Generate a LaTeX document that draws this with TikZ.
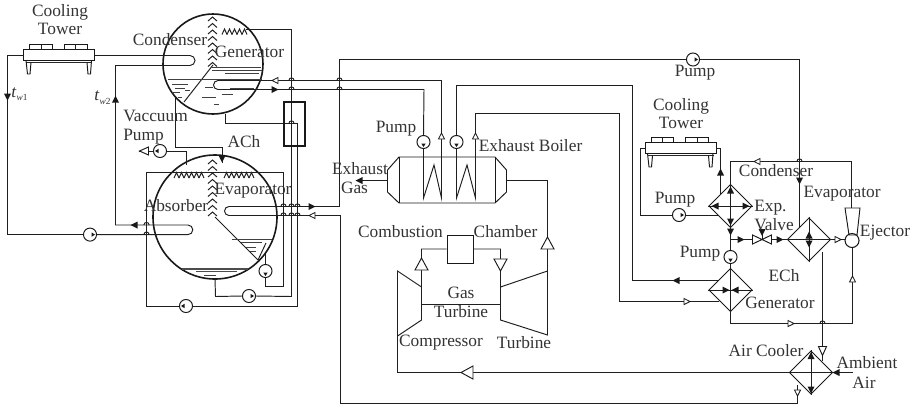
\documentclass[tikz,border=0pt]{standalone}
\usepackage{fontspec}
\setmainfont{Liberation Serif}
\usetikzlibrary{arrows.meta,positioning,shapes.geometric}

\begin{document}
\begin{tikzpicture}[
    x=0.75pt,
    y=-0.75pt,
    pipe/.style={
        line width=0.72pt,
        draw=black!88
    },
    vessel/.style={
        circle,
        draw=black!90,
        line width=1.2pt,
        inner sep=0pt,
        minimum size=#1
    },
    pump/.style={
        circle,
        draw=black!90,
        fill=white,
        line width=0.72pt,
        inner sep=0pt,
        minimum size=9.8pt
    },
    hx/.style={
        diamond,
        draw=black!90,
        line width=0.72pt,
        aspect=1,
        inner sep=0pt,
        minimum size=32.5pt
    },
    box/.style={
        rectangle,
        draw=black!90,
        line width=0.72pt,
        inner sep=0pt
    },
    lbl/.style={
        font=\fontsize{13}{14}\selectfont,
        text=black!80,
        inner sep=0pt,
        align=center
    },
    liquid/.style={
        line width=0.7pt,
        draw=black!75
    },
    headfull/.pic={\fill[black!90] (3.5,0) -- (-3.5,-3.5) -- (-3.5,3.5) -- cycle;},
    headopen/.pic={\draw[line width=0.65pt,black!90,fill=white] (3,0) -- (-3,-3) -- (-3,3) -- cycle;},
    headmid/.pic={\draw[line width=0.7pt,black!90,fill=white] (4.5,0) -- (-4.5,-4) -- (-4.5,4) -- cycle;},
    headbig/.pic={\draw[line width=0.7pt,black!90,fill=white] (6,0) -- (-6,-6.5) -- (-6,6.5) -- cycle;},
    headpump/.pic={\fill[black!90] (5,0) -- (1.5,-2.2) -- (1.5,2.2) -- cycle;},
    hop/.pic={\draw[pipe] (-2.6,0) .. controls (-2.6,-3.4) and (2.6,-3.4) .. (2.6,0);},
    towerunit/.pic={
        \draw[box] (-35.5,-5.5) rectangle (35.5,5.5);
        \draw[box] (-29.5,-5.5) -- (-29.5,-10.5) -- (-7,-10.5) -- (-7,-5.5);
        \draw[box] (5,-5.5) -- (5,-10.5) -- (28,-10.5) -- (28,-5.5);
        \draw[pipe] (-18,-10.5) -- (-18,-5.5) (16.5,-10.5) -- (16.5,-5.5);
        \draw[line width=0.9pt,black!85] (-33,7.5) -- (33,7.5);
        \draw[box] (-33,5.5) -- (-31.5,19) -- (-29,19) -- (-28,7.5);
        \draw[box] (28,7.5) -- (29,19) -- (31.5,19) -- (32.5,5.5);
    },
    spray/.pic={
        \foreach \s in {0,5,...,#1} {
            \draw[pipe] (\s,5.5) -- (\s+2.5,0) -- (\s+5,5.5);
        }
    }
]

% Vessels
\node[vessel=75pt] (condenser) at (213,64) {};
\node[vessel=93pt] (absorber) at (215,217) {};

% Cooling towers
\pic at (59,55) {towerunit};
\pic at (680.5,148) {towerunit};
\coordinate (towerAw) at (23.5,55.5);
\coordinate (towerAe) at (94.5,55.5);
\coordinate (towerBw) at (645,148.5);
\coordinate (towerBe) at (716,148.5);

% Tube ends and free ends
\coordinate (condTubeA) at (190,55.5);
\coordinate (condTubeB) at (190,65.5);
\coordinate (genTubeA) at (218,80.5);
\coordinate (genTubeB) at (218,89.5);
\coordinate (evaTubeA) at (229,206.5);
\coordinate (evaTubeB) at (229,215.5);
\coordinate (absTubeA) at (188,225);
\coordinate (absTubeB) at (188,234.6);
\coordinate (genOut) at (225.5,114);
\coordinate (condDrain) at (175.5,98);
\coordinate (absBottom) at (215,279);
\coordinate (evapDrain) at (265.5,253);
\coordinate (vacIn) at (186.5,165);
\coordinate (vacOut) at (139,151);

% Pumps
\node[pump] (pumpCW) at (90,234.6) {};
\node[pump] (pumpVac) at (160,151) {};
\node[pump] (pumpEva) at (265.5,271) {};
\node[pump] (pumpSol) at (249,296) {};
\node[pump] (pumpAbs) at (186,306) {};
\node[pump] (pumpBoilA) at (423.5,142) {};
\node[pump] (pumpBoilB) at (456.5,142) {};
\node[pump] (pumpTop) at (693,59.5) {};
\node[pump] (pumpTower) at (679,215) {};
\node[pump] (pumpEch) at (730.5,257) {};
\pic at (pumpCW) {headpump};
\pic[rotate=180] at (pumpVac) {headpump};
\pic[rotate=-90] at (pumpEva) {headpump};
\pic at (pumpSol) {headpump};
\pic[rotate=180] at (pumpAbs) {headpump};
\pic[rotate=-90] at (pumpBoilA) {headpump};
\pic[rotate=-90] at (pumpBoilB) {headpump};
\pic at (pumpTop) {headpump};
\pic at (pumpTower) {headpump};
\pic[rotate=-90] at (pumpEch) {headpump};

% Separators
\draw[pipe] (213,65) -- (184,102);
\draw[pipe] (215,217) -- (258,260) -- (266,243);
\foreach \y in {17,23.5,30,36.5,43,49.5,56,62.5} {
    \draw[pipe] (208,\y+4) -- (212.5,\y) -- (217,\y+4);
}
\foreach \y in {160,166.5,173,179.5,186,192.5,199,205.5,212} {
    \draw[pipe] (208,\y+4) -- (212.5,\y) -- (217,\y+4);
}
\pic at (222,29) {spray=20};
\pic at (174,172.5) {spray=25};
\pic at (224,172.5) {spray=25};

% Liquid
\draw[liquid] (212,67) -- (261,67) (212,70) -- (262,70) (225,73) -- (259,73) (168,79.5) -- (262,79.5);
\draw[liquid] (172,84) -- (188,84) (175,88) -- (185,88) (172,92) -- (180,92) (185,90) -- (190,90) (178,97) -- (182,97);
\draw[liquid] (205,87) -- (213,87) (230,88) -- (254,88) (222,94) -- (233,94) (202,97) -- (216,97) (214,104) -- (219,104);
\draw[liquid] (232,239.5) -- (272,239.5) (241,242) -- (262,242) (246,247) -- (256,247) (250,251) -- (256,251);
\draw[line width=1.1pt,black!70] (182,269) -- (248,269) (196,271.5) -- (237,271.5);
\draw[liquid] (204,275) -- (216,275);

% Absorption chiller loops
\draw[pipe] (towerAw) -- (7.5,55.5) -- (7.5,234.6) -- (pumpCW.west);
\draw[pipe] (pumpCW.east) -- (absTubeB) arc[start angle=90,end angle=-90,radius=4.8] -- (115.5,225) -- (115.5,65.5) -- (condTubeB) arc[start angle=90,end angle=-90,radius=5] -- (towerAe);
\draw[pipe] (condDrain) -- (175.5,147) -- (222,147) -- (222,163);
\draw[pipe] (genOut) -- (225.5,123.5) -- (297.5,123.5) -- (297.5,306) -- (pumpAbs.east);
\draw[pipe] (pumpAbs.west) -- (146.5,306) -- (146.5,172.5) -- (283.5,172.5) -- (283.5,286.5) -- (265.5,286.5) -- (pumpEva.south);
\draw[pipe] (evapDrain) -- (pumpEva.north);
\draw[pipe] (246,29.5) -- (291.5,29.5) -- (291.5,296.5) -- (pumpSol.east);
\draw[pipe] (pumpSol.west) -- (215.5,296.5) -- (absBottom);
\draw[pipe] (vacIn) -- (186.5,151) -- (pumpVac.east);
\draw[pipe] (pumpVac.west) -- (vacOut);
\node[box,line width=1.5pt,minimum width=16pt,minimum height=33pt] (absHx) at (294.5,124) {};

% Hot water and chilled water
\draw[pipe] (genTubeA) arc[start angle=-90,end angle=-270,radius=4.5] -- (424,89.5) -- (pumpBoilA.north);
\draw[pipe] (genTubeA) -- (441.5,80.5) -- (441.5,198) -- (434,165) -- (423.5,198) -- (pumpBoilA.south);
\draw[pipe] (evaTubeA) arc[start angle=-90,end angle=-270,radius=4.5] -- (340.5,215.5) -- (340.5,403.5) -- (797.5,403.5) -- (797.5,385);
\draw[pipe] (evaTubeA) -- (339.5,206.5) -- (339.5,59.5) -- (pumpTop.west);
\draw[pipe] (pumpTop.east) -- (799.5,59.5) -- (799.5,228);

% Exhaust boiler
\draw[box] (399,157) -- (495,157) -- (506.5,170) -- (506.5,192) -- (495,203) -- (399,203) -- (387.5,192) -- (387.5,170) -- cycle;
\draw[box] (399,157) -- (399,203) (495,157) -- (495,203);
\coordinate (boilIn) at (506.5,180.5);
\coordinate (boilOut) at (387.5,180.5);
\coordinate (exhaustEnd) at (356,180.5);
\draw[pipe] (boilOut) -- (exhaustEnd);
\draw[pipe] (pumpBoilB.north) -- (456.5,85) -- (632.5,85) -- (632.5,280.5) -- (719,280.5);
\draw[pipe] (pumpBoilB.south) -- (456.5,198) -- (467,165) -- (475.5,198) -- (475.5,113.5) -- (619.5,113.5) -- (619.5,301.5) -- (719,301.5);

% Gas turbine
\node[box,minimum width=19.5pt,minimum height=21pt] (chamber) at (460,249) {};
\draw[pipe] (chamber.west) -- (421.5,249) -- (421.5,320) -- (397.5,336) -- (397.5,271) -- (421.5,287);
\draw[pipe] (chamber.east) -- (500.5,249) -- (500.5,320) -- (547.5,335) -- (547.5,271) -- (500.5,287);
\draw[pipe] (421.5,304) -- (500.5,304);
\draw[pipe] (boilIn) -- (547.5,180.5) -- (547.5,271);
\draw[pipe] (397.5,336) -- (397.5,372.5) -- (853,372.5);

% Electric side heat exchangers
\node[hx] (hxCond) at (730.5,206) {};
\node[hx] (hxEva) at (809,239.5) {};
\node[hx] (hxGen) at (730.5,290) {};
\node[hx] (hxAir) at (811,372.5) {};

\draw[pipe] (hxCond.west) -- (hxCond.east) (hxCond.north) -- (hxCond.south);
\draw[pipe] (hxEva.north) -- (hxEva.south);
\draw[pipe] (hxGen.west) -- (hxGen.east) (hxGen.north) -- (hxGen.south);
\draw[pipe] (hxAir.north) -- (hxAir.south);

\draw[pipe] (towerBw) -- (640.5,148.5) -- (640.5,215) -- (pumpTower.west);
\draw[pipe] (pumpTower.east) -- (718,215);
\draw[pipe] (towerBe) -- (720.5,148.5) -- (720.5,195);
\draw[pipe] (hxCond.north) -- (730.5,161.5) -- (851.5,161.5) -- (851.5,208);
\draw[pipe] (hxCond.south) -- (pumpEch.north);
\draw[pipe] (pumpEch.south) -- (hxGen.north);
\draw[pipe] (730.5,239.5) -- (752,239.5);
\draw[pipe] (772,239.5) -- (hxEva.west) -- (hxEva.east) -- (845,239.5);
\draw[pipe] (hxGen.south) -- (730.5,323.5) -- (852.5,323.5) -- (852.5,247);
\draw[pipe] (822.5,252) -- (822.5,361);

% Expansion valve
\draw[box,fill=white] (752.5,235) -- (771.5,244) -- (771.5,235) -- (752.5,244) -- cycle;
\draw[pipe] (762,239.5) -- (762,231);

% Ejector
\node[circle,draw=black!90,line width=0.8pt,inner sep=0pt,minimum size=10.5pt] (ejector) at (852,240.5) {};
\draw[box] (845,208) -- (860,208) -- (857,235) -- (849,235) -- cycle;

% Arrowheads
\pic[rotate=-90] at (7.5,97) {headfull};
\pic[rotate=90] at (115.5,99) {headfull};
\pic[rotate=180] at (134,225) {headfull};
\pic[rotate=180] at (275,80.5) {headopen};
\pic at (275,89.5) {headfull};
\pic[rotate=-90] at (222,159) {headfull};
\pic[rotate=180] at (144,151) {headmid};
\pic at (312,206.5) {headfull};
\pic[rotate=180] at (312,215.5) {headopen};
\pic[rotate=90] at (441.5,136) {headopen};
\pic[rotate=90] at (475.5,136) {headopen};
\pic[rotate=180] at (359,180.5) {headfull};
\pic[rotate=90] at (547.5,243) {headbig};
\pic[rotate=90] at (421.5,264) {headbig};
\pic[rotate=-90] at (500.5,265) {headbig};
\pic[rotate=180] at (467,372.5) {headbig};
\pic[rotate=90] at (720.5,172) {headfull};
\pic[rotate=180] at (757,161.5) {headopen};
\pic[rotate=-90] at (799.5,181) {headfull};
\pic[rotate=-90] at (730.5,232) {headfull};
\pic at (741,239.5) {headfull};
\pic at (780,239.5) {headfull};
\pic[rotate=-90] at (762,232.5) {headfull};
\pic at (838,239.5) {headopen};
\pic[rotate=180] at (676,280.5) {headfull};
\pic at (687,301.5) {headopen};
\pic at (791,323.5) {headopen};
\pic[rotate=90] at (852.5,279) {headopen};
\pic[rotate=-90] at (822.5,351) {headmid};
\pic[rotate=-90] at (797.5,393) {headopen};
\pic[rotate=180] at (836,372.5) {headfull};
\pic[rotate=180] at (715,206) {headfull};
\pic at (746,206) {headfull};
\pic[rotate=90] at (730.5,190) {headfull};
\pic[rotate=-90] at (730.5,222) {headfull};
\pic[rotate=90] at (809,235) {headfull};
\pic[rotate=-90] at (809,244) {headfull};
\pic at (726,290) {headfull};
\pic[rotate=180] at (735,290) {headfull};
\pic[rotate=90] at (811,355.5) {headfull};
\pic[rotate=-90] at (811,390) {headfull};

% Line jumps
\foreach \xa/\ya in {291.5/80.5,291.5/89.5,339.5/80.5,339.5/89.5,291.5/123.5,146.5/225,146.5/234.6,283.5/206.5,291.5/206.5,297.5/206.5,283.5/215.5,291.5/215.5,297.5/215.5,799.5/161.5,822.5/323.5} {
    \pic at (\xa,\ya) {hop};
}

% Labels
\node[lbl] (towerAtxt) at (60,19.5) {Cooling\\Tower};
\node[lbl] (towerBtxt) at (681,113.5) {Cooling\\Tower};
\node[lbl] (condTxt) at (170,40) {Condenser};
\node[lbl] (genTxt) at (249.5,52) {Generator};
\node[lbl,align=left,anchor=west] (vacTxt) at (123,127) {Vaccuum\\Pump};
\node[lbl] (achTxt) at (244,142) {ACh};
\node[lbl] (evaTxt) at (253,191) {Evaporator};
\node[lbl] (absTxt) at (176,206) {Absorber};
\node[lbl] (twaTxt) at (19.5,94) {\textit{t}\raisebox{-2pt}{\fontsize{7}{8}\selectfont\textit{w}1}};
\node[lbl] (twbTxt) at (102.5,98) {\textit{t}\raisebox{-3pt}{\fontsize{7}{8}\selectfont\textit{w}2}};
\node[lbl] (pumpBoilTxt) at (396,129) {Pump};
\node[lbl] (boilTxt) at (530.5,146) {Exhaust Boiler};
\node[lbl] (gasOutTxt) at (360,169) {Exhaust};
\node[lbl] (gasOutTxtB) at (354.5,188) {Gas};
\node[lbl] (combTxt) at (400.5,232) {Combustion};
\node[lbl] (chamTxt) at (505.5,232) {Chamber};
\node[lbl] (gasTxt) at (461,302.5) {Gas\\Turbine};
\node[lbl] (compTxt) at (441,343) {Compressor};
\node[lbl] (turbTxt) at (524,343) {Turbine};
\node[lbl] (pumpTopTxt) at (695,73) {Pump};
\node[lbl] (condRTxt) at (776,171) {Condenser};
\node[lbl] (evaRTxt) at (842,194) {Evaporator};
\node[lbl,align=left,anchor=west] (expTxt) at (754,215.5) {Exp.\\Valve};
\node[lbl] (ejTxt) at (885,233) {Ejector};
\node[lbl] (pumpTowTxt) at (675,200) {Pump};
\node[lbl] (pumpEchTxt) at (700,254) {Pump};
\node[lbl] (echTxt) at (784,276) {ECh};
\node[lbl] (genRTxt) at (780,303) {Generator};
\node[lbl] (airTxt) at (766,351) {Air Cooler};
\node[lbl] (ambTxt) at (867,363) {Ambient};
\node[lbl] (ambTxtB) at (864,383) {Air};

\useasboundingbox (0,0) rectangle (916,408);
\end{tikzpicture}
\end{document}
